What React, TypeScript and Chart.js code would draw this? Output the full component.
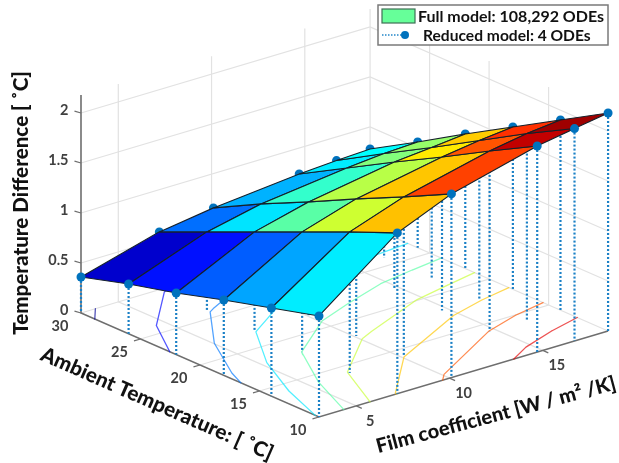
import React, { useEffect, useRef } from "react";
import Chart from "chart.js/auto";

const filmCoefficient = [3, 7.2, 10.1, 14.7, 16.7, 18.5];
const ambientTemperature = [30, 26, 22, 18, 14, 10];
// rows follow ambientTemperature, columns follow filmCoefficient
const row30 = [0.36, 0.578, 0.657, 0.741, 0.764, 0.78];
const row26 = [0.498, 0.786, 0.905, 1.009, 1.042, 1.058];
const row22 = [0.616, 0.994, 1.133, 1.277, 1.31, 1.346];
const row18 = [0.754, 1.202, 1.371, 1.535, 1.588, 1.624];
const row14 = [0.882, 1.41, 1.599, 1.803, 1.866, 1.902];
const row10 = [1.01, 1.608, 1.837, 2.061, 2.124, 2.18];
const temperatureDifference = [row30, row26, row22, row18, row14, row10];

const zTicks = [0, 0.5, 1, 1.5, 2];
const zTickLabels = ["0", "0.5", "1", "1.5", "2"];
const ambientTicks = [30, 25, 20, 15, 10];
const filmTicks = [5, 10, 15];
const contourLevels = [0.4, 0.6, 0.8, 1, 1.2, 1.4, 1.6, 1.8, 2];

const zTitle = "Temperature Difference [ ˚C]";
const ambientTitle = "Ambient Temperature: [ ˚C]";
const filmTitle = "Film coefficient [W / m² /K]";
const fullLabel = "Full model: 108,292 ODEs";
const reducedLabel = "Reduced model: 4 ODEs";

const FILM_MIN = 3, FILM_MAX = 18.5, AMB_MAX = 30, AMB_MIN = 10, Z_MIN = 0.36, Z_MAX = 2.18;
const FONT = "Lato, 'Open Sans', sans-serif";
const BLUE = "#0072BD";

function project(film: number, amb: number, z: number) {
  return {
    x: 81 + (AMB_MAX - amb) * 11.9 + (film - FILM_MIN) * 18.65,
    y: 313 + (AMB_MAX - amb) * 5.2 - (film - FILM_MIN) * 5.55 - z * 100,
  };
}

function jet(z: number, alpha = 1) {
  const v = Math.min(1, Math.max(0, (z - Z_MIN) / (Z_MAX - Z_MIN)));
  const c = (d: number) => Math.round(255 * Math.min(1, Math.max(0, 1.5 - Math.abs(4 * v - d))));
  return `rgba(${c(3)},${c(2)},${c(1)},${alpha})`;
}

function contourPoints(level: number) {
  const pts: { x: number; y: number }[] = [];
  const cross = (i1: number, j1: number, i2: number, j2: number) => {
    const a = temperatureDifference[i1][j1], b = temperatureDifference[i2][j2];
    if ((a - level) * (b - level) > 0 || a === b) return null;
    const t = (level - a) / (b - a);
    return project(
      filmCoefficient[j1] + t * (filmCoefficient[j2] - filmCoefficient[j1]),
      ambientTemperature[i1] + t * (ambientTemperature[i2] - ambientTemperature[i1]),
      0
    );
  };
  for (let i = 0; i < ambientTemperature.length - 1; i++) {
    for (let j = 0; j < filmCoefficient.length - 1; j++) {
      const hits = [cross(i, j, i, j + 1), cross(i, j + 1, i + 1, j + 1), cross(i + 1, j + 1, i + 1, j), cross(i + 1, j, i, j)].filter(Boolean) as { x: number; y: number }[];
      if (hits.length >= 2) pts.push(hits[0], hits[1], { x: NaN, y: NaN });
    }
  }
  return pts;
}

function buildDatasets() {
  const list: any[] = [];
  const line = (data: any[], color: string, width: number, extra: any = {}) =>
    list.push({ data, borderColor: color, borderWidth: width, pointRadius: 0, showLine: true, fill: false, ...extra });
  const GRID = "#e2e2e2";
  const AXIS = "#6e6e6e";

  // back walls and floor grid
  zTicks.forEach((z) => {
    line([project(FILM_MIN, AMB_MAX, z), project(FILM_MAX, AMB_MAX, z), project(FILM_MAX, AMB_MIN, z)], GRID, 1.2);
  });
  filmTicks.forEach((f) => {
    line([project(f, AMB_MIN, 0), project(f, AMB_MAX, 0), project(f, AMB_MAX, Z_MAX)], GRID, 1.2);
  });
  ambientTicks.slice(1, 4).forEach((a) => {
    line([project(FILM_MIN, a, 0), project(FILM_MAX, a, 0), project(FILM_MAX, a, Z_MAX)], GRID, 1.2);
  });
  line([project(FILM_MAX, AMB_MAX, 0), project(FILM_MAX, AMB_MAX, Z_MAX)], GRID, 1.2);

  // axes
  line([project(FILM_MIN, AMB_MAX, Z_MAX), project(FILM_MIN, AMB_MAX, 0), project(FILM_MIN, AMB_MIN, 0), project(FILM_MAX, AMB_MIN, 0)], AXIS, 1.6);
  zTicks.forEach((z) => {
    const p = project(FILM_MIN, AMB_MAX, z);
    line([p, { x: p.x - 6.5, y: p.y - 1.8 }], AXIS, 1.2);
  });
  ambientTicks.slice(1).forEach((a) => {
    const p = project(FILM_MIN, a, 0);
    line([p, { x: p.x - 6.5, y: p.y + 1.9 }], AXIS, 1.2);
  });
  filmTicks.forEach((f) => {
    const p = project(f, AMB_MIN, 0);
    line([p, { x: p.x + 5.5, y: p.y + 2.5 }], AXIS, 1.2);
  });

  // contours on the floor
  contourLevels.forEach((lv) => line(contourPoints(lv), jet(lv, 0.68), 1.3, { borderCapStyle: "round", spanGaps: false }));

  // stems
  temperatureDifference.forEach((row, i) =>
    row.forEach((z, j) => {
      const f = filmCoefficient[j], a = ambientTemperature[i];
      line([project(f, a, z), project(f, a, 0)], "#1a80c6", 2.2, { borderDash: [2, 2] });
    })
  );

  // markers half covered by the surface
  const markers = (pts: any[]) => list.push({ data: pts, showLine: false, pointRadius: 4.5, pointBorderWidth: 0, pointBackgroundColor: BLUE, borderColor: BLUE });
  const hidden: any[] = [], front: any[] = [];
  temperatureDifference.forEach((row, i) =>
    row.forEach((z, j) => {
      const isFront = i === ambientTemperature.length - 1 || j === 0;
      (isFront ? front : hidden).push(project(filmCoefficient[j], ambientTemperature[i], z));
    })
  );
  markers(hidden);
  markers(front);

  // surface faces
  for (let i = 0; i < ambientTemperature.length - 1; i++) {
    for (let j = 0; j < filmCoefficient.length - 1; j++) {
      const P = (a: number, b: number) => project(filmCoefficient[b], ambientTemperature[a], temperatureDifference[a][b]);
      list.push({
        data: [P(i, j), P(i, j + 1), P(i + 1, j + 1), P(i + 1, j), P(i, j)],
        showLine: true,
        fill: "shape",
        backgroundColor: jet(temperatureDifference[i + 1][j]),
        borderColor: "#14202a",
        borderWidth: 1.1,
        pointRadius: 0,
      });
    }
  }
  // front markers sit above the faces
  const f = list.splice(list.findIndex((d) => d.data === front), 1)[0];
  list.push(f);
  list.forEach((d, k) => (d.order = list.length - k));
  return list;
}

const textPlugin = {
  id: "chartText",
  afterDatasetsDraw(chart: any) {
    const ctx: CanvasRenderingContext2D = chart.ctx;
    const xs = chart.scales.x, ys = chart.scales.y;
    const text = (s: string, x: number, y: number, font: string, color: string, rot = 0, align: CanvasTextAlign = "center") => {
      ctx.save();
      ctx.translate(xs.getPixelForValue(x), ys.getPixelForValue(y));
      ctx.rotate((rot * Math.PI) / 180);
      ctx.font = font;
      ctx.fillStyle = color;
      ctx.textAlign = align;
      ctx.textBaseline = "middle";
      ctx.fillText(s, 0, 0);
      ctx.restore();
    };
    const tickFont = `bold 14.5px ${FONT}`;
    const tickColor = "#404040";
    zTicks.forEach((z, k) => {
      const p = project(FILM_MIN, AMB_MAX, z);
      text(zTickLabels[k], p.x - 12.5, p.y - 3, tickFont, tickColor, 0, "right");
    });
    ambientTicks.forEach((a) => {
      const p = project(FILM_MIN, a, 0);
      text(String(a), p.x - 21, p.y + 13, tickFont, tickColor);
    });
    filmTicks.forEach((f) => {
      const p = project(f, AMB_MIN, 0);
      text(String(f), p.x + 14, p.y + 15, tickFont, tickColor);
    });
    const titleFont = `900 20.6px ${FONT}`;
    const filmFont = `900 20px ${FONT}`;
    text(zTitle, 21, 203, titleFont, "#111", -90);
    text(ambientTitle, 157, 404, titleFont, "#111", 23.7);
    text(filmTitle, 496, 415, filmFont, "#111", -15);

    // legend
    ctx.save();
    ctx.fillStyle = "#fff";
    ctx.strokeStyle = "#7a7a7a";
    ctx.lineWidth = 1.5;
    ctx.fillRect(378, 5, 230, 40);
    ctx.strokeRect(378, 5, 230, 40);
    ctx.fillStyle = "#66ff99";
    ctx.strokeStyle = "#3f6f55";
    ctx.lineWidth = 1.2;
    ctx.fillRect(382, 9, 33, 14);
    ctx.strokeRect(382, 9, 33, 14);
    ctx.strokeStyle = "#2487c9";
    ctx.lineWidth = 1.6;
    ctx.setLineDash([1.5, 1.5]);
    ctx.beginPath();
    ctx.moveTo(382, 35);
    ctx.lineTo(405, 35);
    ctx.stroke();
    ctx.setLineDash([]);
    ctx.fillStyle = BLUE;
    ctx.beginPath();
    ctx.arc(405, 35, 4, 0, Math.PI * 2);
    ctx.fill();
    ctx.restore();
    text(fullLabel, 418, 16.5, `bold 16px ${FONT}`, "#111", 0, "left");
    text(reducedLabel, 423, 36, `bold 15.6px ${FONT}`, "#111", 0, "left");
  },
};

export default function App() {
  const ref = useRef<HTMLCanvasElement>(null);
  useEffect(() => {
    document.body.style.margin = "0";
    const chart = new Chart(ref.current!, {
      type: "scatter",
      data: { datasets: buildDatasets() },
      options: {
        animation: false,
        responsive: false,
        events: [],
        layout: { padding: 0, autoPadding: false },
        scales: {
          x: { type: "linear", min: 0, max: 619, display: false },
          y: { type: "linear", min: 0, max: 463, reverse: true, display: false },
        },
        plugins: { legend: { display: false }, tooltip: { enabled: false }, title: { display: false } },
      },
      plugins: [textPlugin],
    } as any);
    return () => chart.destroy();
  }, []);
  return <canvas ref={ref} width={619} height={463} style={{ display: "block", background: "#fff", filter: "blur(0.45px)" }} />;
}
